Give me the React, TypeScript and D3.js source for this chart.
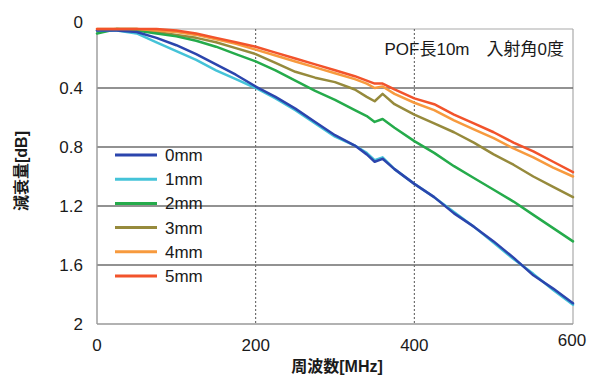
import React from 'react';
import * as d3 from 'd3';

// frequency sample points [MHz]
const freqs = [0, 25, 50, 75, 100, 125, 150, 175, 200, 225, 250, 275, 300, 325, 340, 350, 360, 375, 400, 425, 450, 475, 500, 525, 550, 575, 600];

// attenuation [dB] per offset
const mm0 = [0.01, 0.01, 0.02, 0.06, 0.11, 0.17, 0.24, 0.31, 0.39, 0.46, 0.54, 0.63, 0.72, 0.79, 0.85, 0.90, 0.88, 0.95, 1.05, 1.14, 1.25, 1.34, 1.44, 1.55, 1.67, 1.76, 1.86];
const mm1 = [0.01, 0.01, 0.03, 0.09, 0.15, 0.21, 0.28, 0.34, 0.40, 0.47, 0.55, 0.64, 0.73, 0.79, 0.84, 0.89, 0.87, 0.95, 1.05, 1.14, 1.24, 1.34, 1.45, 1.56, 1.66, 1.77, 1.87];
const mm2 = [0.03, 0.0, 0.01, 0.03, 0.05, 0.08, 0.12, 0.17, 0.22, 0.28, 0.35, 0.42, 0.48, 0.55, 0.59, 0.63, 0.61, 0.67, 0.76, 0.84, 0.93, 1.01, 1.09, 1.17, 1.26, 1.35, 1.44];
const mm3 = [0.01, 0.0, 0.0, 0.02, 0.04, 0.06, 0.09, 0.13, 0.17, 0.23, 0.29, 0.33, 0.36, 0.41, 0.46, 0.49, 0.44, 0.51, 0.58, 0.64, 0.70, 0.77, 0.85, 0.92, 1.00, 1.07, 1.14];
const mm4 = [0.0, 0.0, 0.0, 0.01, 0.02, 0.04, 0.07, 0.10, 0.14, 0.18, 0.22, 0.26, 0.30, 0.34, 0.37, 0.40, 0.39, 0.44, 0.50, 0.55, 0.62, 0.68, 0.74, 0.81, 0.87, 0.94, 1.00];
const mm5 = [0.0, 0.0, 0.0, 0.0, 0.01, 0.03, 0.06, 0.09, 0.12, 0.16, 0.20, 0.24, 0.28, 0.32, 0.35, 0.37, 0.37, 0.41, 0.47, 0.51, 0.58, 0.64, 0.70, 0.77, 0.83, 0.90, 0.97];

const seriesNames = ['0mm', '1mm', '2mm', '3mm', '4mm', '5mm'];
const seriesValues = [mm0, mm1, mm2, mm3, mm4, mm5];
const seriesColors = ['#2b45ad', '#45c3d8', '#25ab4b', '#968a3c', '#f79a3e', '#f2532b'];

const xTicks = [0, 200, 400, 600];
const yTicks = [0, 0.4, 0.8, 1.2, 1.6, 2];
const yGrid = [0.4, 0.8, 1.2, 1.6];
const xGrid = [200, 400];

const W = 594;
const H = 378;
const margin = { top: 29, right: 21, bottom: 54, left: 97 };
const FONT = '"Liberation Sans", Arial, "Noto Sans CJK JP", sans-serif';

export default function App() {
  const x = d3.scaleLinear().domain([0, 600]).range([margin.left, W - margin.right]);
  const y = d3.scaleLinear().domain([0, 2]).range([margin.top, H - margin.bottom]);
  const line = d3.line<number>()
    .x((_, i) => x(freqs[i]))
    .y(d => y(d));

  // draw order: back to front so red ends on top
  const order = [3, 2, 1, 0, 4, 5];

  return (
    <svg width={W} height={H} style={{ position: 'absolute', left: 0, top: 0, background: '#fff' }} fontFamily={FONT}>
      {/* frame */}
      <line x1={x(0)} x2={x(600)} y1={y(0)} y2={y(0)} stroke="#aaa" strokeWidth={1.2} />
      <line x1={x(600)} x2={x(600)} y1={y(0)} y2={y(2)} stroke="#aaa" strokeWidth={1.2} />
      {/* vertical dotted grid */}
      {xGrid.map(f => (
        <line key={f} x1={x(f)} x2={x(f)} y1={y(0)} y2={y(2)} stroke="#555" strokeWidth={1} strokeDasharray="2,2" />
      ))}
      {/* horizontal grid */}
      {yGrid.map(v => (
        <line key={v} x1={x(0)} x2={x(600)} y1={y(v)} y2={y(v)} stroke="#6e6e6e" strokeWidth={1.4} />
      ))}
      <line x1={x(0)} x2={x(0)} y1={y(0)} y2={y(2)} stroke="#999" strokeWidth={1.4} />
      <line x1={x(0)} x2={x(600)} y1={y(2)} y2={y(2)} stroke="#999" strokeWidth={1.4} />

      {/* series */}
      {order.map(i => (
        <path key={seriesNames[i]} d={line(seriesValues[i]) || ''} fill="none" stroke={seriesColors[i]}
          strokeWidth={2.5} strokeLinejoin="round" strokeLinecap="round" />
      ))}

      {/* y ticks */}
      {yTicks.map(v => (
        <text key={v} x={83} y={v === 0 ? y(v) - 7 : y(v)} dy="0.35em" textAnchor="end" fontSize={17} fill="#1a1a1a">
          {String(v)}
        </text>
      ))}
      {/* x ticks */}
      {xTicks.map(f => (
        <text key={f} x={f === 600 ? x(f) - 1 : x(f)} y={f === 600 ? 340 : 345} dy="0.35em" textAnchor="middle" fontSize={17} fill="#1a1a1a">
          {String(f)}
        </text>
      ))}

      {/* axis titles */}
      <text x={337} y={366} dy="0.35em" textAnchor="middle" fontSize={16} fontWeight="bold" fill="#1a1a1a">周波数[MHz]</text>
      <text transform={`translate(21,171) rotate(-90)`} dy="0.35em" textAnchor="middle" fontSize={16} fontWeight="bold" fill="#1a1a1a">減衰量[dB]</text>

      {/* annotation */}
      <text x={564} y={49} dy="0.35em" textAnchor="end" fontSize={17} fill="#1a1a1a">POF長10m　入射角0度</text>

      {/* legend */}
      {seriesNames.map((n, i) => (
        <g key={n} transform={`translate(115,${155 + i * 24.2})`}>
          <line x1={0} x2={42} y1={0} y2={0} stroke={seriesColors[i]} strokeWidth={3} />
          <text x={50} y={0} dy="0.35em" fontSize={17} fill="#1a1a1a">{n}</text>
        </g>
      ))}
    </svg>
  );
}
